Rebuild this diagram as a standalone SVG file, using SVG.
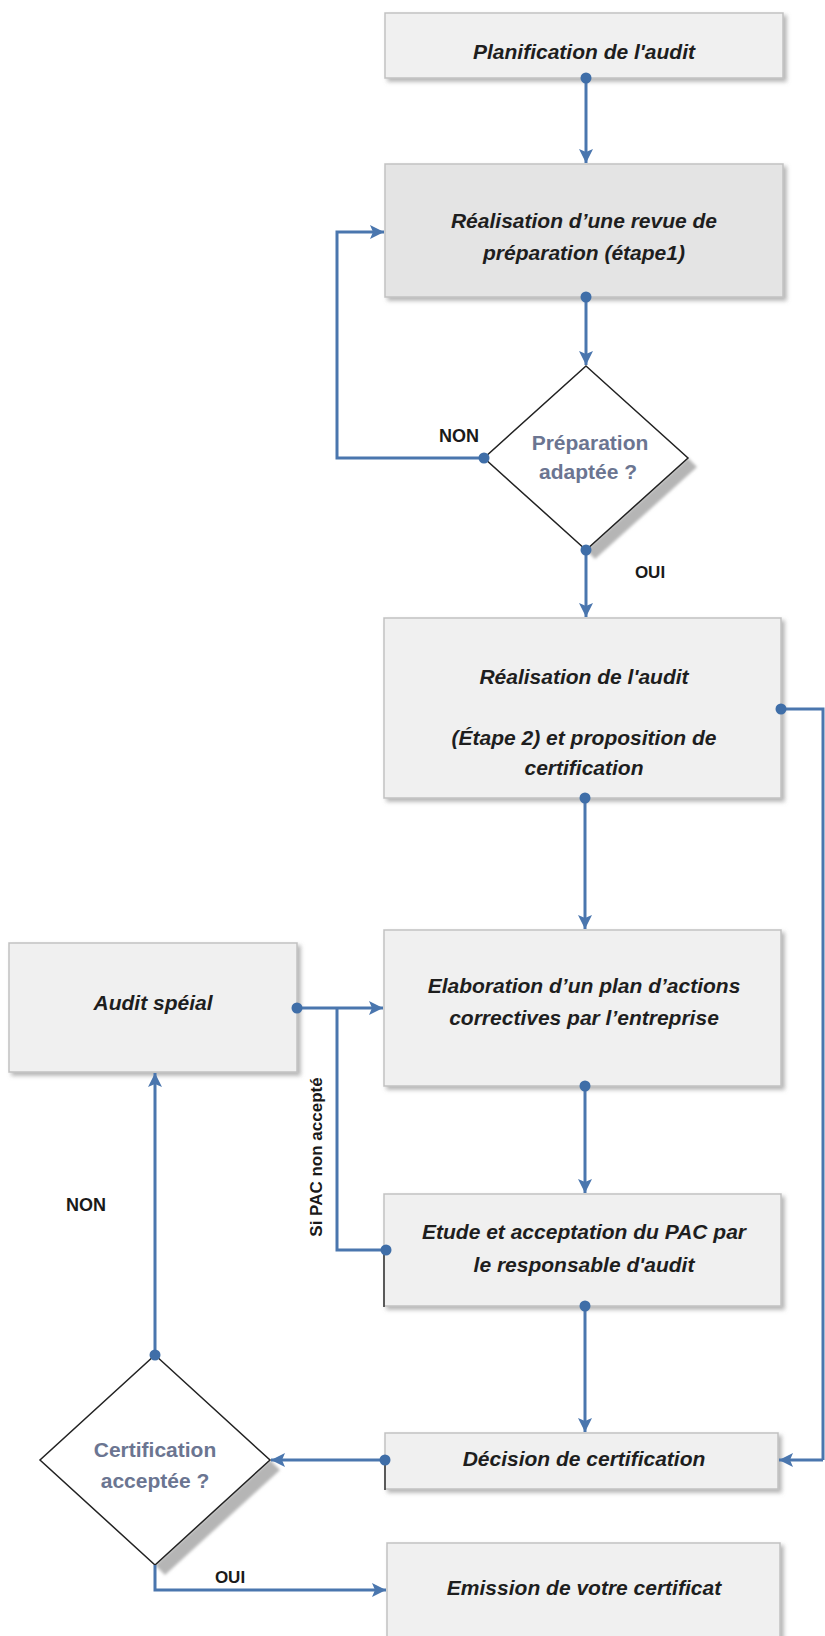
<svg xmlns="http://www.w3.org/2000/svg" width="825" height="1636" viewBox="0 0 825 1636">
<defs>
<filter id="sh" x="-5%" y="-10%" width="115%" height="130%">
<feDropShadow dx="3" dy="3" stdDeviation="2" flood-color="#777" flood-opacity="0.55"/>
</filter>
<filter id="blur" x="-10%" y="-10%" width="130%" height="130%">
<feGaussianBlur stdDeviation="1.5"/>
</filter>
<marker id="ah" markerUnits="userSpaceOnUse" markerWidth="16" markerHeight="14" refX="14" refY="7" orient="auto">
<path d="M0,0 L14,7 L0,14 L3,7 Z" fill="#4a76ae"/>
</marker>
<style>
.box{fill:#f0f0f0;stroke:#c2c2c2;stroke-width:1.5;filter:url(#sh)}
.box2{fill:#e4e4e4;stroke:#c2c2c2;stroke-width:1.5;filter:url(#sh)}
.t{font-family:"Liberation Sans",Arial,sans-serif;font-weight:bold;font-style:italic;font-size:21px;fill:#1e1e1e;text-anchor:middle}
.q{font-family:"Liberation Sans",Arial,sans-serif;font-weight:bold;font-size:21px;fill:#6b7591;text-anchor:middle}
.lbl{font-family:"Liberation Sans",Arial,sans-serif;font-weight:bold;font-size:18px;fill:#1a1a1a;text-anchor:middle}
.lbl2{font-family:"Liberation Sans",Arial,sans-serif;font-weight:bold;font-size:17px;fill:#1a1a1a;text-anchor:middle}
.c{fill:none;stroke:#4a76ae;stroke-width:3}
.ca{fill:none;stroke:#4a76ae;stroke-width:3;marker-end:url(#ah)}
.dot{fill:#3f6ea8}
.dia{fill:#ffffff;stroke:#222;stroke-width:1.5}
.dsh{fill:#b5b5b5;filter:url(#blur)}
.edge{stroke:#333;stroke-width:1.5}
</style>
</defs>

<g id="n1">
<rect class="box" x="385" y="13" width="398" height="65"/>
<text class="t" x="584" y="59">Planification de l'audit</text>
</g>

<g id="n2">
<rect class="box2" x="385" y="164" width="398" height="133"/>
<text class="t" x="584" y="228">Réalisation d’une revue de</text>
<text class="t" x="584" y="260">préparation (étape1)</text>
</g>

<g id="d1">
<polygon class="dsh" points="688,458 586,550 595,559 697,467"/>
<polygon class="dia" points="586,366 688,458 586,550 484,458"/>
<text class="q" x="590" y="450">Préparation</text>
<text class="q" x="588" y="479">adaptée ?</text>
</g>

<g id="n3">
<rect class="box" x="384" y="618" width="397" height="180"/>
<text class="t" x="584" y="684">Réalisation de l'audit</text>
<text class="t" x="584" y="745">(Étape 2) et proposition de</text>
<text class="t" x="584" y="775">certification</text>
</g>

<g id="n4">
<rect class="box" x="384" y="930" width="397" height="156"/>
<text class="t" x="584" y="993">Elaboration d’un plan d’actions</text>
<text class="t" x="584" y="1025">correctives par l’entreprise</text>
</g>

<g id="n5">
<rect class="box" x="9" y="943" width="288" height="129"/>
<text class="t" x="153" y="1010">Audit spéial</text>
</g>

<g id="n6">
<rect class="box" x="384" y="1194" width="397" height="112"/>
<line class="edge" x1="384" y1="1250" x2="384" y2="1307"/>
<text class="t" x="584" y="1239">Etude et acceptation du PAC par</text>
<text class="t" x="584" y="1272">le responsable d'audit</text>
</g>

<g id="n7">
<rect class="box" x="385" y="1433" width="393" height="56"/>
<line class="edge" x1="385" y1="1460" x2="385" y2="1490"/>
<text class="t" x="584" y="1466">Décision de certification</text>
</g>

<g id="d2">
<polygon class="dsh" points="270,1460 155,1565 165,1575 280,1470"/>
<polygon class="dia" points="155,1355 270,1460 155,1565 40,1460"/>
<text class="q" x="155" y="1457">Certification</text>
<text class="q" x="155" y="1488">acceptée ?</text>
</g>

<g id="n8">
<rect class="box" x="387" y="1543" width="393" height="110"/>
<text class="t" x="584" y="1595">Emission de votre certificat</text>
</g>

<g id="connectors">
<path class="ca" d="M586,78 L586,163"/>
<path class="ca" d="M586,297 L586,365"/>
<path class="ca" d="M484,458 L337,458 L337,232 L384,232"/>
<path class="ca" d="M586,550 L586,617"/>
<path class="ca" d="M585,798 L585,929"/>
<path class="c" d="M781,709 L823,709 L823,1460"/>
<path class="ca" d="M823,1460 L779,1460"/>
<path class="ca" d="M297,1008 L383,1008"/>
<path class="c" d="M385,1250 L337,1250 L337,1008"/>
<path class="ca" d="M585,1086 L585,1193"/>
<path class="ca" d="M585,1306 L585,1432"/>
<path class="ca" d="M385,1460 L271,1460"/>
<path class="ca" d="M155,1355 L155,1073"/>
<path class="ca" d="M155,1565 L155,1590 L386,1590"/>
<circle class="dot" cx="586" cy="78" r="5.5"/>
<circle class="dot" cx="586" cy="297" r="5.5"/>
<circle class="dot" cx="484" cy="458" r="5.5"/>
<circle class="dot" cx="586" cy="550" r="5.5"/>
<circle class="dot" cx="781" cy="709" r="5.5"/>
<circle class="dot" cx="585" cy="798" r="5.5"/>
<circle class="dot" cx="297" cy="1008" r="5.5"/>
<circle class="dot" cx="585" cy="1086" r="5.5"/>
<circle class="dot" cx="386" cy="1250" r="5.5"/>
<circle class="dot" cx="585" cy="1306" r="5.5"/>
<circle class="dot" cx="385" cy="1460" r="5.5"/>
<circle class="dot" cx="155" cy="1355" r="5.5"/>
<text class="lbl" x="459" y="442">NON</text>
<text class="lbl2" x="650" y="578">OUI</text>
<text class="lbl" x="86" y="1211">NON</text>
<text class="lbl2" x="230" y="1583">OUI</text>
<text class="lbl2" transform="translate(322,1157) rotate(-90)" x="0" y="0" font-size="18">Si PAC non accepté</text>
</g>
</svg>
